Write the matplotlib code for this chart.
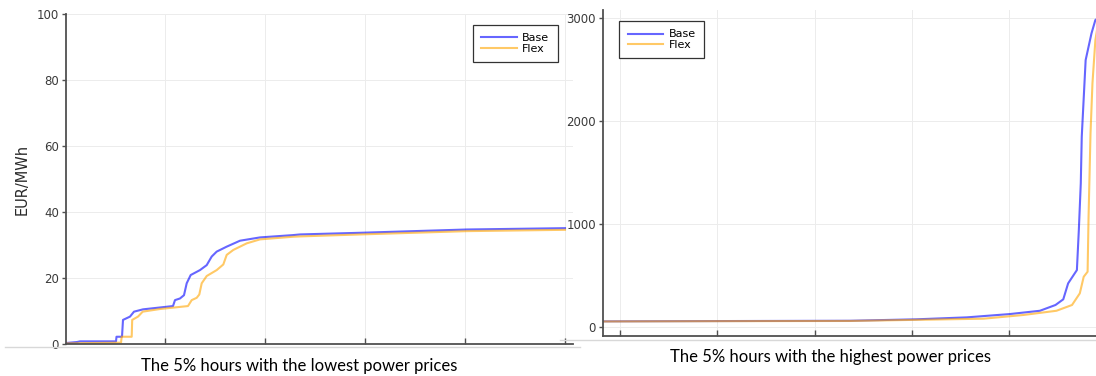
import matplotlib
matplotlib.use("Agg")
import matplotlib.pyplot as plt
from matplotlib.lines import Line2D

# Left panel: lowest 5% hours (x = hour rank, y = EUR/MWh)
low_base_x = [0, 11, 14, 50, 50.5, 56, 57, 64, 68, 77, 107, 109, 114, 118, 120.7, 124.7, 134, 140.7,
              145.7, 150.7, 160.7, 174, 194, 227, 234, 294, 401, 499]
low_base_y = [0.3, 0.6, 0.8, 0.8, 2.2, 2.2, 7.3, 8.3, 9.8, 10.5, 11.5, 13.3, 13.8, 14.8, 18.4, 20.9,
              22.4, 23.9, 26.5, 28.0, 29.5, 31.3, 32.3, 33.0, 33.2, 33.7, 34.7, 35.1]
low_flex_x = [0, 55, 55.7, 65.7, 66.2, 72, 76.7, 94, 122, 125.7, 130.7, 133.3, 135.7, 140.7, 150.7,
              157.3, 160.7, 167.3, 180.7, 194, 227, 234, 294, 401, 499]
low_flex_y = [0.2, 0.4, 2.2, 2.2, 7.3, 8.3, 9.8, 10.6, 11.5, 13.3, 14.0, 15.0, 18.4, 20.6, 22.4,
              24.1, 27.0, 28.5, 30.5, 31.7, 32.5, 32.6, 33.2, 34.2, 34.6]

# Right panel: highest 5% hours
high_base_x = [0, 120, 254, 322, 374, 418, 449, 465, 473, 478, 487, 489, 491, 492, 496, 502, 506, 509, 511]
high_base_y = [55, 58, 61, 75, 94, 126, 158, 214, 269, 424, 553, 942, 1395, 1848, 2592, 2851, 2981, 3000, 3000]
high_flex_x = [0, 120, 254, 391, 432, 466, 482, 490, 494, 498, 499, 501, 503, 506, 509, 511]
high_flex_y = [54, 57, 59, 81, 117, 158, 214, 327, 488, 537, 1071, 1880, 2366, 2786, 2960, 3000]

low_ticks = [99, 199, 299, 399, 499]
low_yticks = [0, 20, 40, 60, 80, 100]
high_ticks = [17.5, 117.2, 217.9, 317.6, 417.3]
high_yticks = [0, 1000, 2000, 3000]

blue = "blue"
orange = "orange"
W, H = 1096, 376

fig = plt.figure(figsize=(W / 100, H / 100), dpi=100)
fig.patch.set_facecolor("white")


def style(ax):
    for s in ["top", "right"]:
        ax.spines[s].set_visible(False)
    for s in ["left", "bottom"]:
        ax.spines[s].set_color("#505050")
        ax.spines[s].set_linewidth(1.3)
    ax.grid(True, color="#ececec", linewidth=0.7)
    ax.set_axisbelow(True)
    ax.tick_params(axis="x", direction="in", length=4, width=1, color="#505050", labelbottom=False)
    ax.tick_params(axis="y", direction="out", length=3, width=1, color="#505050",
                   labelsize=8.5, labelcolor="#3a3a3a", pad=2)


def legend(ax, loc, anchor):
    leg = ax.legend(loc=loc, bbox_to_anchor=anchor, fontsize=8, handlelength=3.2,
                    labelspacing=0.05, handletextpad=0.5, borderpad=0.75, borderaxespad=0,
                    fancybox=False, framealpha=1, edgecolor="#333333")
    leg.get_frame().set_linewidth(0.9)


# left panel
ax1 = fig.add_axes([66 / W, (H - 344) / H, 507 / W, 330 / H])
ax1.plot(low_base_x, low_base_y, color=blue, alpha=0.6, lw=1.5, label="Base")
ax1.plot(low_flex_x, low_flex_y, color=orange, alpha=0.6, lw=1.5, label="Flex")
ax1.set_xlim(0, 507)
ax1.set_ylim(0, 100)
ax1.set_xticks(low_ticks)
ax1.set_yticks(low_yticks)
style(ax1)
ax1.set_ylabel("EUR/MWh", fontsize=10.5, color="#2a2a2a", labelpad=5)
legend(ax1, "upper right", (0.970, 0.967))

# right panel
ax2 = fig.add_axes([603 / W, (H - 336) / H, 506 / W, 326 / H])
ax2.plot(high_base_x, high_base_y, color=blue, alpha=0.6, lw=1.5, label="Base")
ax2.plot(high_flex_x, high_flex_y, color=orange, alpha=0.6, lw=1.5, label="Flex")
ax2.set_xlim(0, 520)
ax2.set_ylim(-87, 3078)
ax2.set_xticks(high_ticks)
ax2.set_yticks(high_yticks)
style(ax2)
legend(ax2, "upper left", (0.032, 0.966))

# faint screenshot border lines
fig.add_artist(Line2D([5 / W, 580 / W], [(H - 347) / H] * 2, color="#d8d8d8", lw=1))
fig.add_artist(Line2D([560 / W, 1 / 1], [(H - 340) / H] * 2, color="#d8d8d8", lw=1))

fig.text(299 / W, 1 - 366 / H, "The 5% hours with the lowest power prices", family="Lato",
         fontsize=12, ha="center", va="center", color="black")
fig.text(830 / W, 1 - 357 / H, "The 5% hours with the highest power prices", family="Lato",
         fontsize=12, ha="center", va="center", color="black")

fig.savefig("out.png", dpi=100, facecolor="white")
